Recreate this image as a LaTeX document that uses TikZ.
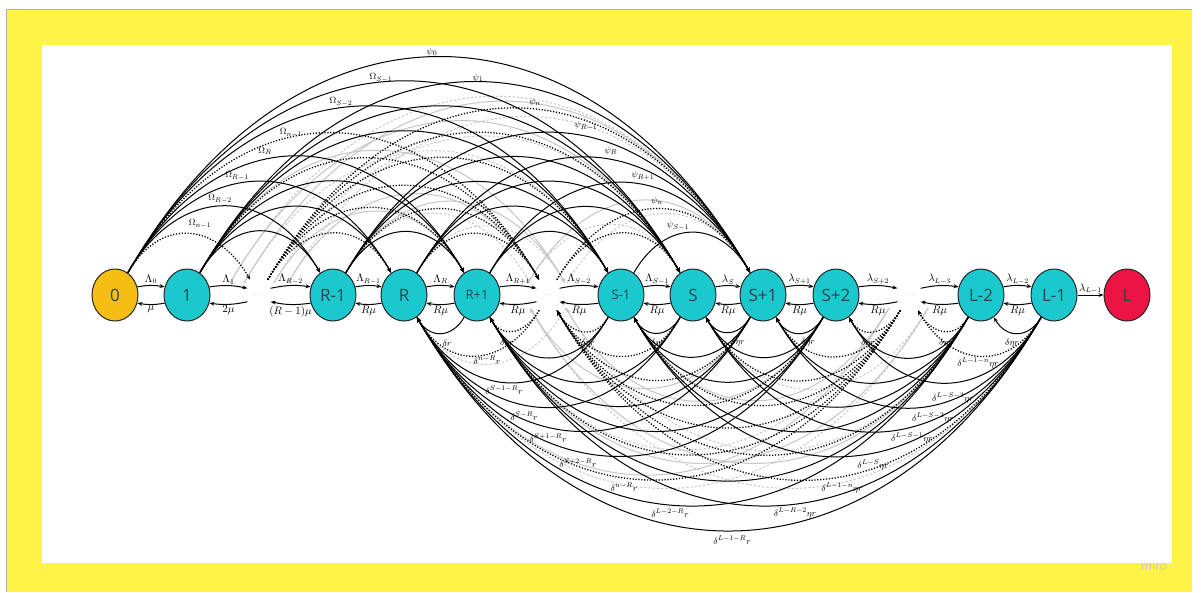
\documentclass[tikz,border=0pt]{standalone}
\usepackage{fontspec}
\newfontfamily\nodefont{Open Sans}
\usetikzlibrary{shapes.geometric,arrows.meta}
\definecolor{bgyellow}{RGB}{255,243,72}
\definecolor{ncyan}{RGB}{27,200,205}
\definecolor{namber}{RGB}{246,190,18}
\definecolor{nred}{RGB}{236,20,68}
\definecolor{ntext}{RGB}{40,70,75}
\pgfdeclarelayer{back}
\pgfdeclarelayer{arcs}
\pgfsetlayers{back,arcs,main}
\begin{document}
\begin{tikzpicture}[x=1pt,y=-1pt,
  state/.style={ellipse,draw=black!85,line width=1pt,minimum width=46pt,minimum height=52pt,inner sep=0pt,text=ntext,font=\nodefont\fontsize{17}{17}\selectfont},
  smallstate/.style={state,font=\nodefont\fontsize{13}{13}\selectfont},
  dotsnode/.style={ellipse,minimum width=24pt,minimum height=44pt,inner sep=0pt,text=gray,font=\scriptsize},
  tip/.style={-{Stealth[length=5pt,width=3.8pt]}},
  adj/.style={tip,line width=1pt},
  topArc/.style={tip,line width=1pt,out=60,in=120,looseness=1.37},
  botArc/.style={tip,line width=1pt,out=-120,in=-60,looseness=1.35},
  dotline/.style={line width=1.3pt,dash pattern=on 1.2pt off 1.7pt},
  grayline/.style={draw=gray!45,line width=0.7pt},
  graydash/.style={draw=gray!45,line width=0.7pt,dash pattern=on 2.2pt off 2pt},
  lab/.style={font=\fontsize{10.5}{11}\selectfont,inner sep=1pt},
  alab/.style={font=\fontsize{9.5}{10}\selectfont,inner sep=0.5pt},
]
\useasboundingbox (0,0) rectangle (1201,592);
\begin{pgfonlayer}{back}
  \fill[white] (0,0) rectangle (1201,592);
  \fill[bgyellow] (6,9) rectangle (1192,592);
  \draw[gray!60,line width=0.6pt] (6,592) -- (6,9) -- (1192,9);
  \fill[white] (42,45) rectangle (1172,563);
\end{pgfonlayer}

% states
\node[state,fill=namber] (n0) at (115,295) {0};
\node[state,fill=ncyan] (n1) at (187,295) {1};
\node[dotsnode] (d1) at (259,295) {$\cdots$};
\node[state,fill=ncyan] (nRa) at (333,295) {R-1};
\node[state,fill=ncyan] (nR) at (404,295) {R};
\node[smallstate,fill=ncyan] (nRb) at (477,295) {R+1};
\node[dotsnode] (d2) at (548,295) {$\cdots$};
\node[smallstate,fill=ncyan] (nSa) at (621,295) {S-1};
\node[state,fill=ncyan] (nS) at (693,295) {S};
\node[state,fill=ncyan] (nSb) at (763,295) {S+1};
\node[state,fill=ncyan] (nSc) at (836,295) {S+2};
\node[dotsnode] (d3) at (909,295) {$\cdots$};
\node[state,fill=ncyan] (nLa) at (981,295) {L-2};
\node[state,fill=ncyan] (nLb) at (1054,295) {L-1};
\node[state,fill=nred] (nL) at (1127,295) {L};

% texture coordinates
\coordinate (ga) at (230,283);
\coordinate (gb) at (244,283);
\coordinate (gc) at (274,283);
\coordinate (gd) at (288,283);
\coordinate (ge) at (528,283);
\coordinate (gf) at (567,283);
\coordinate (gg) at (530,283);
\coordinate (gh) at (565,283);
\coordinate (bx) at (889,308);
\coordinate (by) at (928,308);
\coordinate (bz) at (530,308);
\coordinate (bw) at (566,308);

\begin{pgfonlayer}{arcs}
  % gray texture arcs (top)
  \draw[grayline,topArc] (ga) to (nS);
  \draw[graydash,topArc] (ga) to (nSb);
  \draw[graydash,topArc] (gb) to (nSa);
  \draw[grayline,topArc] (gb) to (nSb);
  \draw[graydash,topArc] (gc) to (nS);
  \draw[grayline,topArc] (gc) to (nRb);
  \draw[graydash,topArc] (gd) to (nSb);
  \draw[grayline,topArc] (gd) to (d2);
  \draw[grayline,topArc] (ge) to (nSb);
  \draw[graydash,topArc] (ge) to (nS);
  \draw[graydash,topArc] (gf) to (nSb);
  \draw[graydash,topArc] (nRa) to (gg);
  \draw[grayline,topArc] (n1) to (gh);
  \draw[graydash,topArc] (nR) to (gh);
  \draw[grayline,topArc] (nRa) to (gh);
  % gray texture arcs (bottom)
  \draw[grayline,botArc] (bx) to (nR);
  \draw[graydash,botArc] (bx) to (nRb);
  \draw[grayline,botArc] (bx) to (nSa);
  \draw[graydash,botArc] (by) to (nR);
  \draw[grayline,botArc] (by) to (nRb);
  \draw[graydash,botArc] (by) to (nS);
  \draw[grayline,botArc] (nLa) to (bz);
  \draw[graydash,botArc] (nLb) to (bz);
  \draw[graydash,botArc] (nLa) to (bw);
  \draw[grayline,botArc] (nSc) to (bw);
  \draw[graydash,botArc] (bw) to (nR);
  \draw[grayline,botArc] (nSb) to (bz);

  % top jump arcs
  \def\Tlist{0/n0/0,1/n1/0,2/d1/1,3/nRa/0,4/nR/0,5/nRb/0,6/d2/1,7/nSa/0,8/nS/0,9/nSb/0}
  \foreach \i/\a/\ta in \Tlist {
    \foreach \j/\b/\tb in \Tlist {
      \ifnum\j>\numexpr\i+1\relax
        \ifnum\numexpr\ta+\tb\relax>0
          \draw[topArc,dotline] (\a) to (\b);
        \else
          \draw[topArc] (\a) to (\b);
        \fi
      \fi
    }
  }
  % bottom jump arcs
  \def\Blist{0/nR/0,1/nRb/0,2/d2/1,3/nSa/0,4/nS/0,5/nSb/0,6/nSc/0,7/d3/1,8/nLa/0,9/nLb/0}
  \foreach \i/\a/\ta in \Blist {
    \foreach \j/\b/\tb in \Blist {
      \ifnum\j>\i\relax
        \ifnum\numexpr\ta+\tb\relax>0
          \draw[botArc,dotline] (\b) to (\a);
        \else
          \draw[botArc] (\b) to (\a);
        \fi
      \fi
    }
  }
\end{pgfonlayer}

% adjacent transitions
\foreach \a/\aa/\b/\bb/\up/\dn in {
  n0/20/n1/160/{$\Lambda_0$}/{$\mu$},
  n1/20/d1/150/{$\Lambda_1$}/{$2\mu$},
  d1/30/nRa/160/{$\Lambda_{R-2}$}/{$(R-1)\mu$},
  nRa/20/nR/160/{$\Lambda_{R-1}$}/{$R\mu$},
  nR/20/nRb/160/{$\Lambda_R$}/{$R\mu$},
  nRb/20/d2/150/{$\Lambda_{R+1}$}/{$R\mu$},
  d2/30/nSa/160/{$\Lambda_{S-2}$}/{$R\mu$},
  nSa/20/nS/160/{$\Lambda_{S-1}$}/{$R\mu$},
  nS/20/nSb/160/{$\lambda_S$}/{$R\mu$},
  nSb/20/nSc/160/{$\lambda_{S+1}$}/{$R\mu$},
  nSc/20/d3/150/{$\lambda_{S+2}$}/{$R\mu$},
  d3/30/nLa/160/{$\lambda_{L-3}$}/{$R\mu$},
  nLa/20/nLb/160/{$\lambda_{L-2}$}/{$R\mu$}} {
  \draw[adj] (\a.\aa) to[bend left=10] node[lab,above] {\up} (\b.\bb);
  \draw[adj] (\b.-\bb) to[bend left=10] node[lab,below] {\dn} (\a.-\aa);
}
\draw[adj] (nLb) -- node[lab,above] {$\lambda_{L-1}$} (nL);

% top labels
\node[alab] (t1) at (432,52) {$\psi_0$};
\node[alab] (t2) at (381,78) {$\Omega_{S-1}$};
\node[alab] (t3) at (478,78) {$\psi_1$};
\node[alab] (t4) at (341,102) {$\Omega_{S-2}$};
\node[alab] (t5) at (535,102) {$\psi_n$};
\node[alab] (t6) at (291,133) {$\Omega_{n-1}$};
\node[alab] (t7) at (586,126) {$\psi_{R-1}$};
\node[alab] (t8) at (265,151) {$\Omega_R$};
\node[alab] (t9) at (611,151) {$\psi_R$};
\node[alab] (t10) at (237,176) {$\Omega_{R-1}$};
\node[alab] (t11) at (643,176) {$\psi_{R+1}$};
\node[alab] (t12) at (220,199) {$\Omega_{R-2}$};
\node[alab] (t13) at (657,201) {$\psi_n$};
\node[alab] (t14) at (200,224) {$\Omega_{n-1}$};
\node[alab] (t15) at (678,226) {$\psi_{S-1}$};

% bottom labels
\node[alab] (b1) at (447,343) {$\delta r$};
\node[alab] (b2) at (507,343) {$\delta\eta r$};
\node[alab] (b3) at (588,343) {$\delta\eta r$};
\node[alab] (b4) at (658,343) {$\delta\eta r$};
\node[alab] (b5) at (738,342) {$\delta\eta r$};
\node[alab] (b6) at (808,342) {$\delta\eta r$};
\node[alab] (b7) at (868,343) {$\delta\eta r$};
\node[alab] (b8) at (946,343) {$\delta\eta r$};
\node[alab] (b9) at (1012,343) {$\delta\eta r$};
\node[alab] (b10) at (487,360) {$\delta^{n-R}r$};
\node[alab] (b11) at (504,390) {$\delta^{S-1-R}r$};
\node[alab] (b12) at (524,416) {$\delta^{S-R}r$};
\node[alab] (b13) at (548,438) {$\delta^{S+1-R}r$};
\node[alab] (b14) at (578,463) {$\delta^{S+2-R}r$};
\node[alab] (b15) at (624,487) {$\delta^{n-R}r$};
\node[alab] (b16) at (670,513) {$\delta^{L-2-R}r$};
\node[alab] (b17) at (732,540) {$\delta^{L-1-R}r$};
\node[alab] (b18) at (978,363) {$\delta^{L-1-n}\eta r$};
\node[alab] (b19) at (953,398) {$\delta^{L-S-3}\eta r$};
\node[alab] (b20) at (933,418) {$\delta^{L-S-2}\eta r$};
\node[alab] (b21) at (912,438) {$\delta^{L-S-1}\eta r$};
\node[alab] (b22) at (873,465) {$\delta^{L-S}\eta r$};
\node[alab] (b23) at (842,488) {$\delta^{L-1-n}\eta r$};
\node[alab] (b24) at (795,513) {$\delta^{L-R-2}\eta r$};

\node[text=gray!45,font=\nodefont\fontsize{12}{12}\selectfont] (miro) at (1154,566) {miro};
\end{tikzpicture}
\end{document}
